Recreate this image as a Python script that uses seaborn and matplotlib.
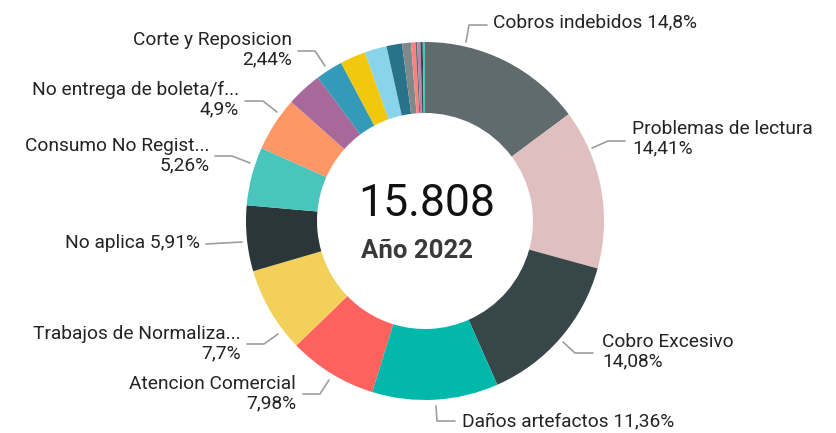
import matplotlib
matplotlib.use("Agg")
import matplotlib.pyplot as plt
import seaborn as sns

# slices, clockwise from 12 o'clock
categorias = ["Cobros indebidos", "Problemas de lectura", "Cobro Excesivo", "Daños artefactos",
              "Atencion Comercial", "Trabajos de Normaliza...", "No aplica", "Consumo No Regist...",
              "No entrega de boleta/f...", "Otro 1", "Corte y Reposicion", "Otro 2", "Otro 3",
              "Otro 4", "Otro 5", "Otro 6", "Otro 7", "Otro 8", "Otro 9", "Otro 10"]
porcentajes = [14.8, 14.41, 14.08, 11.36, 7.98, 7.7, 5.91, 5.26, 4.9, 3.2, 2.44, 2.3, 2.0,
               1.4, 0.8, 0.4, 0.15, 0.3, 0.2, 0.2]
colores = ["#5F6B6D", "#DFBFBF", "#374649", "#01B8AA", "#FD625E", "#F2D05A", "#2B3638", "#4AC5BB",
           "#FE9666", "#A66999", "#3599B8", "#F2C80F", "#8AD4EB", "#28738A", "#7F898A", "#FB8281",
           "#5F6B6D", "#B687AC", "#374649", "#4AC5BB"]
total = "15.808"
subtitulo = "Año 2022"

# labels: text, anchor x, y (image px), ha, leader line points (image px)
etiquetas = [
    ("Cobros indebidos 14,8%", 493, 22, "left", [(466, 42), (469, 25), (487, 25)]),
    ("Problemas de lectura\n14,41%", 632, 139, "left", [(592, 148), (608, 141), (625, 141)]),
    ("Cobro Excesivo\n14,08%", 602, 352, "left", [(563, 342), (575, 353), (593, 353)]),
    ("Daños artefactos 11,36%", 462, 421, "left", [(436, 406), (437, 421), (455, 421)]),
    ("Atencion Comercial\n7,98%", 296, 394, "right", [(329, 380), (320, 394), (303, 394)]),
    ("Trabajos de Normaliza...\n7,7%", 241, 344, "right", [(278, 334), (264, 344), (247, 344)]),
    ("No aplica 5,91%", 200, 243, "right", [(242, 242), (206, 244)]),
    ("Consumo No Regist...\n5,26%", 210, 156, "right", [(250, 163), (232, 156), (215, 156)]),
    ("No entrega de boleta/f...\n4,9%", 239, 100, "right", [(277, 112), (263, 101), (245, 101)]),
    ("Corte y Reposicion\n2,44%", 292, 50, "right", [(325, 66), (315, 51), (298, 51)]),
]

sns.set_theme(style="white")
plt.rcParams["font.family"] = ["Roboto", "DejaVu Sans"]

W, H = 837, 433
fig = plt.figure(figsize=(W / 100, H / 100), dpi=100)
ax = fig.add_axes([0, 0, 1, 1])

cx, cy, r = 425, H - 221, 179
ax.pie(porcentajes, colors=colores, startangle=90, counterclock=False,
       center=(cx, cy), radius=r, frame=True,
       wedgeprops=dict(width=71, linewidth=0))
ax.set_xlim(0, W)
ax.set_ylim(0, H)
ax.set_aspect("equal")
ax.axis("off")

for texto, x, y, ha, pts in etiquetas:
    ax.plot([p[0] for p in pts], [H - p[1] for p in pts], color="#9E9E9E", lw=1.2)
    ax.text(x, H - y, texto, ha=ha, va="center", fontsize=13.8, color="#252423",
            linespacing=1.1)

ax.text(cx + 2, H - 204, total, ha="center", va="center", fontsize=32, color="#111111")
ax.text(cx - 8, H - 251, subtitulo, ha="center", va="center", fontsize=18.5,
        fontweight="bold", color="#3A3A3A")

fig.savefig("out.png", dpi=100, facecolor="white")
